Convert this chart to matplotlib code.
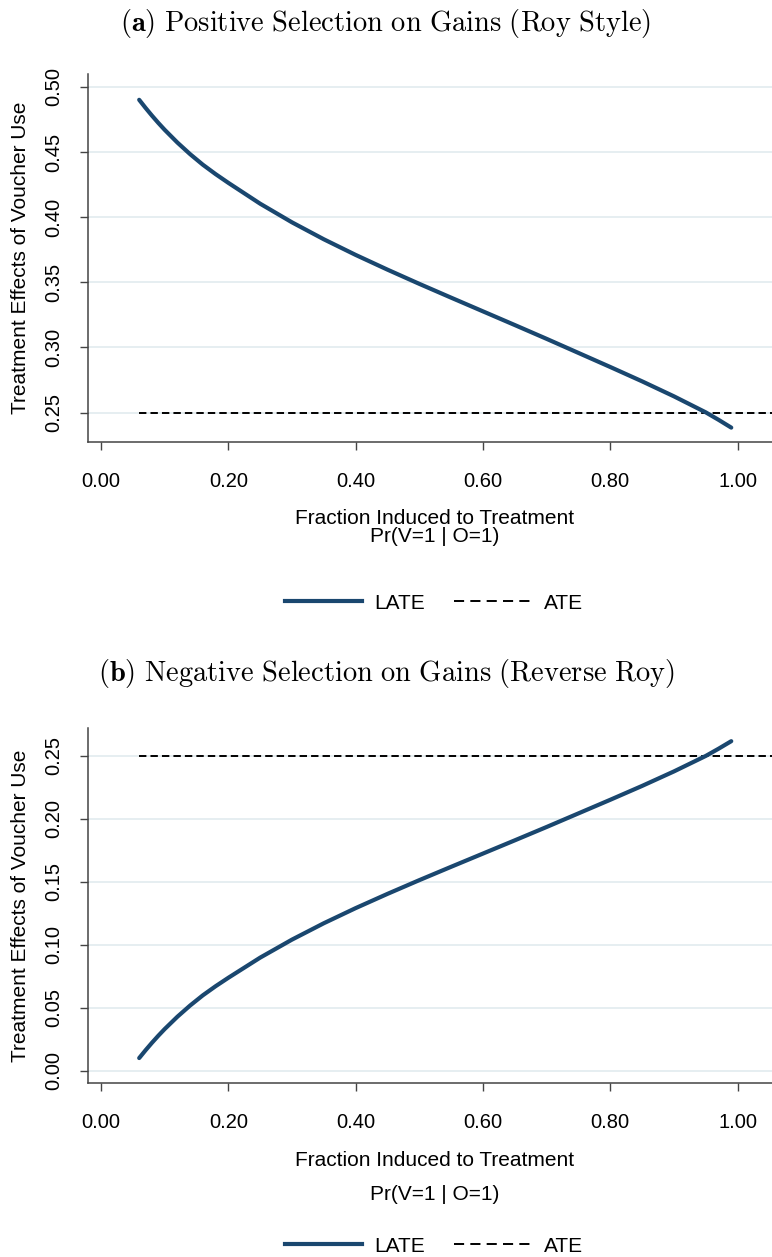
import matplotlib
matplotlib.use("Agg")
import matplotlib.pyplot as plt
from matplotlib.lines import Line2D

plt.rcParams["font.family"] = ["Liberation Sans", "DejaVu Sans"]
plt.rcParams["mathtext.fontset"] = "cm"

# fraction induced to treatment, Pr(V=1 | O=1)
frac = [0.06, 0.07, 0.08, 0.09, 0.10, 0.12, 0.14, 0.16, 0.18, 0.20, 0.25, 0.30, 0.35,
        0.40, 0.45, 0.50, 0.55, 0.60, 0.65, 0.70, 0.75, 0.80, 0.85, 0.90, 0.95, 0.97, 0.99]

# LATE under positive selection on gains (Roy style)
late_pos = [0.4900, 0.4838, 0.4779, 0.4723, 0.4670, 0.4572, 0.4483, 0.4402, 0.4330,
            0.4263, 0.4103, 0.3960, 0.3830, 0.3710, 0.3597, 0.3488, 0.3382, 0.3277,
            0.3172, 0.3066, 0.2958, 0.2850, 0.2740, 0.2625, 0.2502, 0.2445, 0.2385]

# LATE under negative selection on gains (reverse Roy)
late_neg = [0.0100, 0.0162, 0.0221, 0.0277, 0.0330, 0.0428, 0.0517, 0.0598, 0.0670,
            0.0737, 0.0897, 0.1040, 0.1170, 0.1290, 0.1403, 0.1512, 0.1618, 0.1723,
            0.1828, 0.1934, 0.2042, 0.2150, 0.2260, 0.2375, 0.2498, 0.2555, 0.2615]

ate = 0.25
ate_span = [0.06, 1.10]

xticks = [0.0, 0.2, 0.4, 0.6, 0.8, 1.0]
yticks_pos = [0.25, 0.30, 0.35, 0.40, 0.45, 0.50]
yticks_neg = [0.00, 0.05, 0.10, 0.15, 0.20, 0.25]

titles = [r"$\mathbf{(a)}\ \mathrm{Positive\ Selection\ on\ Gains\ (Roy\ Style)}$",
          r"$\mathbf{(b)}\ \mathrm{Negative\ Selection\ on\ Gains\ (Reverse\ Roy)}$"]

W, H = 772, 1257
NAVY = "#1a476f"
GRID = "#e4edf0"
SPINE = "#444444"

fig = plt.figure(figsize=(W / 100, H / 100), dpi=100)


def fx(px):
    return px / W


def fy(py):
    return 1 - py / H


def panel(top, bottom, late, yticks, ylim, title, title_y, xl_y1, xl_y2, leg_y):
    ax = fig.add_axes([fx(88), fy(bottom), fx(W - 88), (bottom - top) / H])
    for y in yticks:
        ax.axhline(y, color=GRID, lw=1.3, zorder=0)
    ax.plot(ate_span, [ate, ate], color="black", lw=1.4, dashes=(3.8, 2.1), zorder=2)
    ax.plot(frac, late, color=NAVY, lw=3.0, solid_capstyle="round",
            solid_joinstyle="round", zorder=3)
    ax.set_xlim(-0.0204, 1.054)
    ax.set_ylim(*ylim)
    ax.set_xticks(xticks)
    ax.set_xticklabels([f"{v:.2f}" for v in xticks])
    ax.set_yticks(yticks)
    ax.set_yticklabels([f"{v:.2f}" for v in yticks], rotation=90, va="center")
    ax.tick_params(axis="both", labelsize=14.5, length=6, width=1.0, color=SPINE)
    ax.tick_params(axis="x", pad=15.5)
    ax.tick_params(axis="y", pad=12)
    for side in ("top", "right"):
        ax.spines[side].set_visible(False)
    for side in ("left", "bottom"):
        ax.spines[side].set_color(SPINE)
        ax.spines[side].set_linewidth(1.1)
    ax.set_ylabel("Treatment Effects of Voucher Use", fontsize=15)
    ax.yaxis.set_label_coords((30 - 88) / (W - 88), 0.5)

    fig.text(fx(386), fy(title_y), title, fontsize=20.5, ha="center", va="center")
    fig.text(fx(435), fy(xl_y1), "Fraction Induced to Treatment", fontsize=15,
             ha="center", va="center")
    fig.text(fx(435), fy(xl_y2), "Pr(V=1 | O=1)", fontsize=15, ha="center", va="center")

    handles = [Line2D([], [], color=NAVY, lw=3.0),
               Line2D([], [], color="black", lw=1.4, dashes=(5.2, 3.2))]
    fig.legend(handles, ["LATE", "ATE"], loc="center", bbox_to_anchor=(fx(434), fy(leg_y)),
               ncol=2, frameon=False, fontsize=15, handlelength=3.7, handletextpad=0.6,
               columnspacing=1.4)
    return ax


panel(74, 441.7, late_pos, yticks_pos, (0.2277, 0.5098), titles[0], 24, 518, 536, 603)
panel(727.7, 1083, late_neg, yticks_neg, (-0.0098, 0.2722), titles[1], 674, 1161, 1195, 1246)

fig.savefig("out.png", dpi=100)
